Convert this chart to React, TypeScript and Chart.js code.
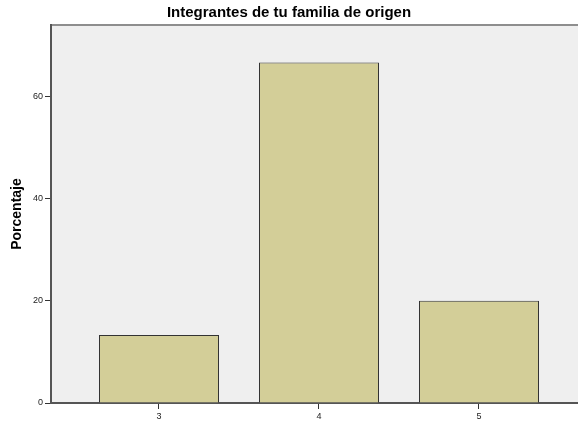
import React, { useEffect, useRef } from 'react';
import { Chart, registerables } from 'chart.js';

Chart.register(...registerables);

const categories = [3, 4, 5];
const percentages = [13.33, 66.67, 20.0];
const yTickValues = [0, 20, 40, 60];
const chartTitle = 'Integrantes de tu familia de origen';
const yAxisTitle = 'Porcentaje';

const FONT = '"Liberation Sans", Arial, sans-serif';

export default function App() {
  const ref = useRef<HTMLCanvasElement>(null);

  useEffect(() => {
    document.body.style.margin = '0';
    const canvas = ref.current;
    if (!canvas) return;

    const plotBg = {
      id: 'plotBg',
      beforeDraw(chart: any) {
        const { ctx, chartArea: a } = chart;
        ctx.save();
        ctx.fillStyle = '#EFEFEF';
        ctx.fillRect(a.left, a.top, a.right - a.left, a.bottom - a.top);
        ctx.strokeStyle = '#8e8e8e';
        ctx.lineWidth = 2;
        ctx.beginPath();
        ctx.moveTo(a.left, a.top);
        ctx.lineTo(a.right, a.top);
        ctx.stroke();
        ctx.restore();
      },
    };

    const chart = new Chart(canvas, {
      type: 'bar',
      data: {
        datasets: [
          {
            data: categories.map((c, i) => ({ x: c, y: percentages[i] })),
            backgroundColor: '#D3CE98',
            borderColor: '#333333',
            borderWidth: 1,
            barPercentage: 1,
            categoryPercentage: 0.75,
          },
        ],
      },
      options: {
        responsive: false,
        animation: false,
        layout: { padding: 0 },
        plugins: {
          legend: { display: false },
          tooltip: { enabled: false },
          title: {
            display: true,
            text: chartTitle,
            color: '#000',
            font: { family: FONT, size: 15, weight: 'bold' },
            padding: { top: 4, bottom: 3 },
          },
        },
        scales: {
          x: {
            type: 'linear',
            min: 2.325,
            max: 5.61875,
            offset: false,
            afterBuildTicks: (scale: any) => {
              scale.ticks = categories.map((v) => ({ value: v }));
            },
            afterFit: (scale: any) => {
              scale.height = 22;
            },
            grid: {
              offset: false,
              drawOnChartArea: false,
              drawTicks: true,
              tickLength: 6,
              tickColor: '#333',
              tickWidth: 1,
            },
            border: { display: true, color: '#555', width: 2 },
            ticks: {
              color: '#222',
              font: { family: FONT, size: 9 },
              padding: 2,
              maxRotation: 0,
              callback: (v: any) => String(v),
            },
          },
          y: {
            type: 'linear',
            min: 0,
            max: 74,
            afterBuildTicks: (scale: any) => {
              scale.ticks = yTickValues.map((v) => ({ value: v }));
            },
            afterFit: (scale: any) => {
              scale.width = 51;
            },
            grid: {
              drawOnChartArea: false,
              drawTicks: true,
              tickLength: 6,
              tickColor: '#333',
              tickWidth: 1,
            },
            border: { display: true, color: '#555', width: 2 },
            ticks: {
              color: '#222',
              font: { family: FONT, size: 9 },
              padding: 2,
            },
            title: {
              display: true,
              text: yAxisTitle,
              color: '#000',
              font: { family: FONT, size: 14, weight: 'bold' },
              padding: { top: 9, bottom: 0 },
            },
          },
        },
      },
      plugins: [plotBg],
    });

    return () => chart.destroy();
  }, []);

  return (
    <div style={{ width: 578, height: 425 }}>
      <canvas ref={ref} width={578} height={425} style={{ display: 'block' }} />
    </div>
  );
}
